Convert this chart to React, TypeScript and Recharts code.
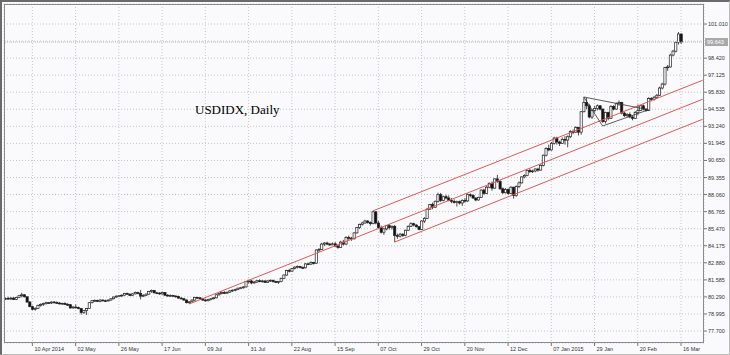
import React from 'react';
import { ComposedChart, Bar, XAxis, YAxis, CartesianGrid, ReferenceLine } from 'recharts';

type Candle = [number, number, number, number]; // open, high, low, close

const mar2014: Candle[] = [
  [80.12, 80.25, 80.05, 80.18], [80.18, 80.30, 80.10, 80.15], [80.15, 80.28, 80.05, 80.20],
];
const apr2014: Candle[] = [
  [80.20, 80.28, 80.05, 80.10], [80.10, 80.30, 80.05, 80.25], [80.25, 80.42, 80.20, 80.38], [80.38, 80.60, 80.25, 80.45],
  [80.45, 80.50, 80.25, 80.30], [80.30, 80.32, 79.85, 79.90], [79.90, 79.98, 79.50, 79.55], [79.55, 79.62, 79.28, 79.35],
  [79.35, 79.50, 79.25, 79.42], [79.42, 79.70, 79.38, 79.65], [79.65, 79.80, 79.55, 79.72], [79.72, 79.85, 79.60, 79.78],
  [79.78, 79.92, 79.70, 79.85], [79.85, 79.90, 79.78, 79.83], [79.83, 79.95, 79.75, 79.90], [79.90, 79.98, 79.80, 79.86],
  [79.86, 79.95, 79.78, 79.82], [79.82, 79.90, 79.72, 79.78], [79.78, 79.85, 79.70, 79.80], [79.80, 79.88, 79.68, 79.72],
  [79.72, 79.82, 79.62, 79.70], [79.70, 79.75, 79.40, 79.45],
];
const may2014: Candle[] = [
  [79.45, 79.60, 79.40, 79.52], [79.52, 79.72, 79.40, 79.48], [79.48, 79.55, 79.35, 79.40], [79.40, 79.45, 78.95, 79.10],
  [79.10, 79.30, 79.00, 79.25], [79.25, 79.45, 78.92, 79.40], [79.40, 79.90, 79.38, 79.85], [79.85, 80.05, 79.80, 80.00],
  [80.00, 80.10, 79.90, 80.02], [80.02, 80.08, 79.90, 79.95], [79.95, 80.12, 79.88, 80.05], [80.05, 80.10, 79.95, 80.00],
  [80.00, 80.08, 79.92, 79.98], [79.98, 80.10, 79.95, 80.05], [80.05, 80.20, 80.00, 80.15], [80.15, 80.32, 80.10, 80.28],
  [80.28, 80.40, 80.22, 80.35], [80.35, 80.42, 80.28, 80.38], [80.38, 80.48, 80.30, 80.42], [80.42, 80.60, 80.38, 80.55],
  [80.55, 80.62, 80.45, 80.50], [80.50, 80.55, 80.35, 80.40],
];
const jun2014: Candle[] = [
  [80.40, 80.58, 80.35, 80.52], [80.52, 80.70, 80.48, 80.62], [80.62, 80.68, 80.48, 80.55], [80.55, 80.82, 80.10, 80.35],
  [80.35, 80.50, 80.28, 80.40], [80.40, 80.55, 80.35, 80.50], [80.50, 80.75, 80.45, 80.70], [80.70, 80.85, 80.60, 80.78],
  [80.78, 80.82, 80.55, 80.60], [80.60, 80.68, 80.50, 80.58], [80.58, 80.65, 80.45, 80.52], [80.52, 80.70, 80.45, 80.62],
  [80.62, 80.65, 80.35, 80.42], [80.42, 80.50, 80.30, 80.38], [80.38, 80.48, 80.30, 80.40], [80.40, 80.45, 80.30, 80.35],
  [80.35, 80.42, 80.25, 80.32], [80.32, 80.38, 80.15, 80.20], [80.20, 80.28, 80.10, 80.15], [80.15, 80.20, 80.00, 80.05],
  [80.05, 80.10, 79.80, 79.85],
];
const jul2014: Candle[] = [
  [79.85, 79.95, 79.75, 79.92], [79.92, 80.10, 79.88, 80.05], [80.05, 80.30, 80.00, 80.25], [80.25, 80.30, 80.15, 80.22],
  [80.22, 80.28, 80.10, 80.15], [80.15, 80.20, 79.98, 80.05], [80.05, 80.12, 79.95, 80.00], [80.00, 80.15, 79.95, 80.10],
  [80.10, 80.20, 80.02, 80.15], [80.15, 80.25, 80.10, 80.22], [80.22, 80.50, 80.18, 80.45], [80.45, 80.60, 80.38, 80.55],
  [80.55, 80.70, 80.48, 80.62], [80.62, 80.72, 80.52, 80.58], [80.58, 80.68, 80.52, 80.65], [80.65, 80.80, 80.60, 80.75],
  [80.75, 80.85, 80.68, 80.80], [80.80, 80.92, 80.72, 80.85], [80.85, 81.00, 80.80, 80.95], [80.95, 81.05, 80.88, 80.98],
  [80.98, 81.10, 80.92, 81.05], [81.05, 81.50, 81.00, 81.45], [81.45, 81.60, 81.30, 81.50],
];
const aug2014: Candle[] = [
  [81.50, 81.60, 81.25, 81.35], [81.35, 81.48, 81.30, 81.42], [81.42, 81.58, 81.35, 81.52], [81.52, 81.62, 81.40, 81.45],
  [81.45, 81.58, 81.38, 81.50], [81.50, 81.55, 81.35, 81.40], [81.40, 81.55, 81.35, 81.50], [81.50, 81.62, 81.42, 81.55],
  [81.55, 81.60, 81.38, 81.45], [81.45, 81.52, 81.35, 81.40], [81.40, 81.50, 81.28, 81.45], [81.45, 81.75, 81.40, 81.70],
  [81.70, 82.00, 81.65, 81.95], [81.95, 82.35, 81.90, 82.30], [82.30, 82.42, 82.15, 82.25], [82.25, 82.50, 82.20, 82.45],
  [82.45, 82.62, 82.38, 82.55], [82.55, 82.68, 82.45, 82.60], [82.60, 82.65, 82.45, 82.52], [82.52, 82.60, 82.40, 82.50],
  [82.50, 82.85, 82.45, 82.80],
];
const sep2014: Candle[] = [
  [82.80, 82.88, 82.70, 82.78], [82.78, 82.98, 82.72, 82.90], [82.90, 82.95, 82.75, 82.85], [82.85, 83.90, 82.80, 83.85],
  [83.85, 84.00, 83.70, 83.90], [83.90, 84.40, 83.85, 84.30], [84.30, 84.45, 84.15, 84.38], [84.38, 84.48, 84.22, 84.30],
  [84.30, 84.40, 84.15, 84.28], [84.28, 84.42, 84.20, 84.32], [84.32, 84.45, 84.10, 84.15], [84.15, 84.25, 83.95, 84.05],
  [84.05, 84.55, 84.00, 84.45], [84.45, 84.62, 84.20, 84.30], [84.30, 84.90, 84.25, 84.80], [84.80, 84.95, 84.62, 84.75],
  [84.75, 84.85, 84.55, 84.70], [84.70, 85.20, 84.65, 85.15], [85.15, 85.60, 85.10, 85.55], [85.55, 85.85, 85.45, 85.80],
  [85.80, 86.00, 85.70, 85.90], [85.90, 86.15, 85.85, 86.05],
];
const oct2014: Candle[] = [
  [86.05, 86.12, 85.85, 85.95], [85.95, 86.02, 85.70, 85.85], [85.85, 86.82, 85.80, 86.75], [86.75, 86.80, 85.80, 85.90],
  [85.90, 86.05, 85.45, 85.55], [85.55, 85.70, 85.10, 85.20], [85.20, 85.55, 85.00, 85.45], [85.45, 85.75, 85.35, 85.70],
  [85.70, 85.82, 85.40, 85.55], [85.55, 85.72, 85.40, 85.65], [85.65, 85.75, 84.45, 84.95], [84.95, 85.10, 84.70, 84.90],
  [84.90, 85.15, 84.80, 85.05], [85.05, 85.12, 84.85, 84.95], [84.95, 85.40, 84.90, 85.35], [85.35, 85.72, 85.30, 85.65],
  [85.65, 85.95, 85.60, 85.85], [85.85, 85.92, 85.65, 85.75], [85.75, 85.80, 85.55, 85.62], [85.62, 85.68, 85.35, 85.42],
  [85.42, 86.10, 85.38, 86.05], [86.05, 86.35, 85.90, 86.25], [86.25, 87.05, 86.20, 86.95],
];
const nov2014: Candle[] = [
  [86.95, 87.35, 86.90, 87.30], [87.30, 87.45, 86.95, 87.10], [87.10, 87.60, 87.05, 87.55], [87.55, 88.20, 87.45, 88.05],
  [88.05, 88.18, 87.50, 87.62], [87.62, 87.98, 87.55, 87.90], [87.90, 88.05, 87.70, 87.80], [87.80, 88.00, 87.55, 87.62],
  [87.62, 87.80, 87.40, 87.55], [87.55, 87.70, 87.38, 87.45], [87.45, 87.60, 87.15, 87.52], [87.52, 87.60, 87.30, 87.42],
  [87.42, 87.70, 87.20, 87.62], [87.62, 87.80, 87.45, 87.58], [87.58, 88.15, 87.50, 88.05], [88.05, 88.15, 87.85, 88.00],
  [88.00, 88.08, 87.72, 87.80], [87.80, 87.85, 87.55, 87.65], [87.65, 87.90, 87.60, 87.85], [87.85, 88.45, 87.80, 88.40],
];
const dec2014: Candle[] = [
  [88.40, 88.50, 88.05, 88.15], [88.15, 88.70, 88.10, 88.62], [88.62, 88.98, 88.55, 88.92], [88.92, 89.05, 88.35, 88.55],
  [88.55, 89.30, 88.50, 89.25], [89.25, 89.55, 88.95, 89.05], [89.05, 89.15, 88.40, 88.50], [88.50, 88.60, 88.10, 88.20],
  [88.20, 88.55, 88.15, 88.45], [88.45, 88.52, 88.05, 88.15], [88.15, 88.70, 88.10, 88.62], [88.62, 88.65, 87.75, 87.98],
  [87.98, 88.75, 87.90, 88.68], [88.68, 89.05, 88.55, 88.95], [88.95, 89.45, 88.90, 89.40], [89.40, 89.60, 89.30, 89.50],
  [89.50, 89.95, 89.45, 89.90], [89.90, 90.05, 89.70, 89.80], [89.80, 89.95, 89.70, 89.85], [89.85, 90.05, 89.75, 90.00],
  [90.00, 90.10, 89.80, 89.92], [89.92, 90.35, 89.88, 90.28],
];
const jan2015: Candle[] = [
  [90.28, 91.10, 90.20, 91.05], [91.05, 91.65, 90.95, 91.55], [91.55, 91.85, 91.35, 91.45], [91.45, 92.05, 91.40, 91.95],
  [91.95, 92.45, 91.85, 92.35], [92.35, 92.45, 91.85, 92.05], [92.05, 92.15, 91.75, 91.95], [91.95, 92.40, 91.90, 92.25],
  [92.25, 92.50, 91.85, 92.20], [92.20, 92.55, 91.65, 92.45], [92.45, 92.95, 92.35, 92.85], [92.85, 93.00, 92.65, 92.80],
  [92.80, 93.25, 92.75, 93.15], [93.15, 93.20, 92.55, 92.80], [92.80, 94.40, 92.60, 94.35], [94.35, 95.45, 94.30, 95.05],
  [95.05, 95.40, 94.55, 94.80], [94.80, 94.95, 93.85, 93.95], [93.95, 94.55, 93.80, 94.45], [94.45, 94.80, 94.30, 94.60],
  [94.60, 94.90, 94.45, 94.80],
];
const feb2015: Candle[] = [
  [94.80, 94.85, 94.45, 94.55], [94.55, 94.60, 93.50, 93.60], [93.60, 94.35, 93.45, 94.30], [94.30, 94.35, 93.70, 93.85],
  [93.85, 94.85, 93.80, 94.75], [94.75, 94.85, 94.45, 94.55], [94.55, 95.05, 94.50, 94.95], [94.95, 95.20, 94.80, 95.05],
  [95.05, 95.10, 94.15, 94.25], [94.25, 94.35, 93.95, 94.05], [94.05, 94.25, 93.95, 94.15], [94.15, 94.30, 93.85, 93.95],
  [93.95, 94.05, 93.70, 93.85], [93.85, 94.40, 93.80, 94.30], [94.30, 94.90, 94.10, 94.45], [94.45, 94.85, 94.40, 94.80],
  [94.80, 94.90, 94.45, 94.55], [94.55, 94.60, 94.35, 94.45], [94.45, 95.45, 94.40, 95.35], [95.35, 95.45, 95.15, 95.30],
];
const mar2015: Candle[] = [
  [95.30, 95.55, 95.20, 95.45], [95.45, 95.70, 95.35, 95.60], [95.60, 96.25, 95.55, 96.15], [96.15, 96.55, 96.05, 96.45],
  [96.45, 97.75, 96.35, 97.70], [97.70, 97.90, 97.45, 97.75], [97.75, 98.75, 97.70, 98.65], [98.65, 99.05, 98.55, 98.95],
  [98.95, 99.70, 98.85, 99.60], [99.60, 100.40, 99.45, 100.25], [100.25, 100.30, 99.50, 99.643],
];

const firstDay = '2014-03-27';
const holidays = ['2014-12-25', '2015-01-01'];
const padBars = 8; // empty space to the right of the last bar

const tickDates = [
  '2014-04-10', '2014-05-02', '2014-05-26', '2014-06-17', '2014-07-09', '2014-07-31', '2014-08-22', '2014-09-15',
  '2014-10-07', '2014-10-29', '2014-11-20', '2014-12-12', '2015-01-07', '2015-01-29', '2015-02-20', '2015-03-16',
];
const tickLabels = [
  '10 Apr 2014', '02 May', '26 May', '17 Jun', '09 Jul', '31 Jul', '22 Aug', '15 Sep',
  '07 Oct', '29 Oct', '20 Nov', '12 Dec', '07 Jan 2015', '29 Jan', '20 Feb', '16 Mar',
];
const priceTicks = [
  77.7, 78.995, 80.29, 81.585, 82.88, 84.175, 85.47, 86.765, 88.06, 89.355,
  90.65, 91.945, 93.24, 94.535, 95.83, 97.125, 98.42, 99.715, 101.01,
];
const hiddenTicks = [99.715]; // covered by the price label

// hand-drawn objects: [date, price] end points
const channelMid: [string, number][] = [['2014-07-01', 79.75], ['2015-03-26', 95.3]];
const channelTop: [string, number][] = [['2014-10-03', 86.82], ['2015-03-26', 96.74]];
const channelBottom: [string, number][] = [['2014-10-15', 84.45], ['2015-03-26', 93.78]];
const triangle: [string, number][] = [['2015-01-23', 95.47], ['2015-02-03', 93.27], ['2015-02-26', 94.5]];

const candles: Candle[] = [
  ...mar2014, ...apr2014, ...may2014, ...jun2014, ...jul2014, ...aug2014,
  ...sep2014, ...oct2014, ...nov2014, ...dec2014, ...jan2015, ...feb2015, ...mar2015,
];
const lastClose = candles[candles.length - 1][3];

const buildDates = (count: number) => {
  const out: string[] = [];
  const d = new Date(firstDay + 'T00:00:00Z');
  while (out.length < count) {
    const iso = d.toISOString().slice(0, 10);
    const wd = d.getUTCDay();
    if (wd !== 0 && wd !== 6 && !holidays.includes(iso)) out.push(iso);
    d.setUTCDate(d.getUTCDate() + 1);
  }
  return out;
};

const rows = buildDates(candles.length + padBars).map((d, i) => {
  const c = candles[i];
  return c ? { d, o: c[0], h: c[1], l: c[2], c: c[3] } : { d };
});

const FONT = '"Liberation Sans", Arial, sans-serif';

const CandleShape = (props: any) => {
  const { x, y, width, height, payload } = props;
  if (!payload || payload.o == null) return null;
  const top = Math.min(y, y + height);
  const bottom = Math.max(y, y + height);
  const range = payload.h - payload.l;
  const toY = (v: number) => (range > 0 ? top + ((payload.h - v) / range) * (bottom - top) : top);
  const cx = x + width / 2;
  const bull = payload.c >= payload.o;
  const yo = toY(payload.o);
  const yc = toY(payload.c);
  const bTop = Math.min(yo, yc);
  const bH = Math.max(Math.abs(yo - yc), 0.8);
  return (
    <g>
      <line x1={cx} x2={cx} y1={top} y2={bottom} stroke="#222" strokeWidth={0.8} />
      <rect
        x={cx - 1.1}
        y={bTop}
        width={2.2}
        height={bH}
        fill={bull ? '#fff' : '#111'}
        stroke="#222"
        strokeWidth={0.7}
      />
    </g>
  );
};

const XTick = (props: any) => {
  const { x, y, payload } = props;
  const idx = tickDates.indexOf(payload.value);
  return (
    <g>
      <line x1={x} x2={x} y1={y} y2={y + 3} stroke="#777" />
      <text x={x + 2} y={y + 8} fontSize={5.5} fill="#333" fontFamily={FONT}>
        {idx >= 0 ? tickLabels[idx] : ''}
      </text>
    </g>
  );
};

const YTick = (props: any) => {
  const { x, y, payload } = props;
  if (hiddenTicks.includes(payload.value)) return null;
  return (
    <g>
      <line x1={x} x2={x + 3} y1={y} y2={y} stroke="#777" />
      <text x={x + 4} y={y + 2} fontSize={5.5} fill="#333" fontFamily={FONT}>
        {payload.value.toFixed(3)}
      </text>
    </g>
  );
};

const PriceLabel = (props: any) => {
  const vb = props.viewBox || {};
  const x = (vb.x || 0) + (vb.width || 0) + 1;
  const y = vb.y || 0;
  return (
    <g>
      <rect x={x} y={y - 4} width={23} height={8} fill="#a8a8a8" />
      <text x={x + 2} y={y + 2} fontSize={5.5} fill="#fff" fontFamily={FONT}>
        {lastClose.toFixed(3)}
      </text>
    </g>
  );
};

const seg = (a: [string, number], b: [string, number]) => [
  { x: a[0], y: a[1] },
  { x: b[0], y: b[1] },
];

const App: React.FC = () => {
  return (
    <div style={{ position: 'absolute', left: 0, top: 0, width: 730, height: 355, background: '#fafafc' }}>
      <ComposedChart
        width={730}
        height={355}
        data={rows}
        margin={{ top: 4, right: 0, left: 4, bottom: 0 }}
        barCategoryGap={0}
      >
        <CartesianGrid stroke="#c4c4cc" strokeDasharray="1 2" />
        <XAxis
          dataKey="d"
          type="category"
          ticks={tickDates}
          interval={0}
          height={12}
          tickSize={0}
          tickMargin={0}
          axisLine={false}
          tickLine={false}
          tick={<XTick />}
        />
        <YAxis
          orientation="right"
          type="number"
          domain={[76.79, 102.53]}
          ticks={priceTicks}
          interval={0}
          allowDataOverflow
          width={26}
          tickSize={0}
          tickMargin={0}
          axisLine={false}
          tickLine={false}
          tick={<YTick />}
        />
        <ReferenceLine y={lastClose} stroke="#b4b4b4" strokeDasharray="1 1" label={<PriceLabel />} />
        <ReferenceLine segment={seg(channelMid[0], channelMid[1])} stroke="#e05a5a" strokeWidth={1} />
        <ReferenceLine segment={seg(channelTop[0], channelTop[1])} stroke="#e05a5a" strokeWidth={1} />
        <ReferenceLine segment={seg(channelBottom[0], channelBottom[1])} stroke="#e05a5a" strokeWidth={1} />
        <ReferenceLine segment={seg(triangle[0], triangle[1])} stroke="#333" strokeWidth={0.8} />
        <ReferenceLine segment={seg(triangle[1], triangle[2])} stroke="#333" strokeWidth={0.8} />
        <ReferenceLine segment={seg(triangle[0], triangle[2])} stroke="#333" strokeWidth={0.8} />
        <Bar
          dataKey={(r: any) => (r.h != null ? [r.l, r.h] : null)}
          shape={<CandleShape />}
          isAnimationActive={false}
        />
      </ComposedChart>
      <div
        style={{
          position: 'absolute', left: 4, top: 4, width: 700, height: 339,
          border: '1px solid #8a8a8a', boxSizing: 'border-box', pointerEvents: 'none',
        }}
      />
      <div
        style={{
          position: 'absolute', left: 0, top: 0, width: 730, height: 355,
          border: '2px solid #6a6a6a', borderRight: '1px solid #bbb', borderBottom: '1px solid #bbb',
          boxSizing: 'border-box', pointerEvents: 'none',
        }}
      />
      <div
        style={{
          position: 'absolute', left: 195, top: 102, fontFamily: '"Liberation Serif", "Times New Roman", serif',
          fontSize: 13, lineHeight: '15px', color: '#000', whiteSpace: 'nowrap',
        }}
      >
        USDIDX, Daily
      </div>
    </div>
  );
};

export default App;
